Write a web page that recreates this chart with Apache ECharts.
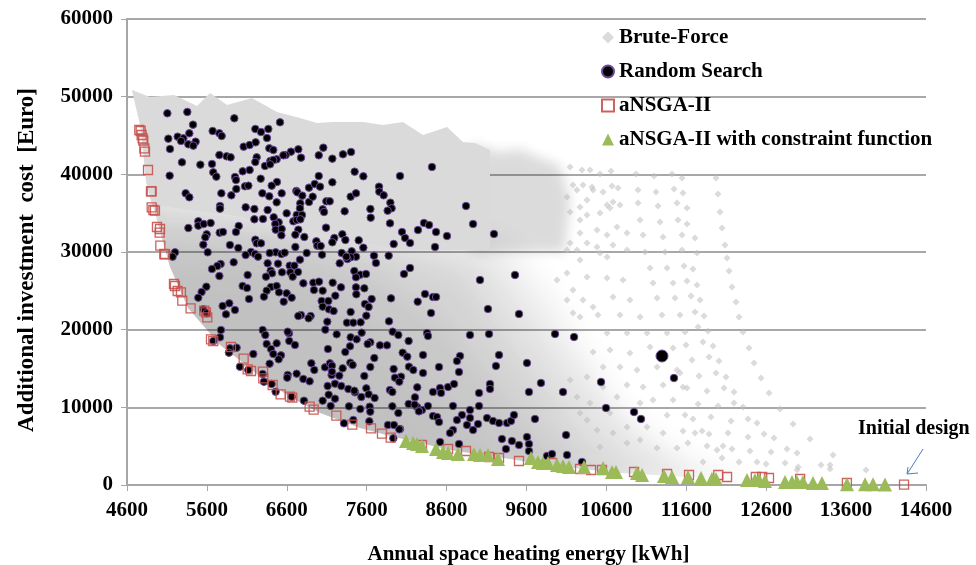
<!DOCTYPE html>
<html><head><meta charset="utf-8">
<style>html,body{margin:0;padding:0;background:#fff}#c{width:976px;height:565px}</style>
<script src="https://cdn.jsdelivr.net/npm/echarts@6/dist/echarts.min.js"></script>
</head><body><div id="c"></div>
<script>
const xTicks=[4600,14600,1000], yTicks=[0,60000,10000];
const legendNames=['Brute-Force','Random Search','aNSGA-II','aNSGA-II with constraint function'];

const randomSearchLarge=[[11296,16610]];
const randomSearch=[
[5105,47856],[5355,48028],[5943,47212],[6515,46697],[5426,46397],[5672,45581],[5756,45281],[5785,44938],[5380,45281],[6206,45839],[6277,45452],[6369,45839],[6352,44680],[5117,44594],[5234,44852],[5305,44637],[5276,44294],[5459,44208],[5368,43865],[5430,43693],[5138,43264],[6060,43564],[6135,43779],[6210,44122],[6381,43350],[6431,43135],[6744,43221],[6652,42920],[6586,42491],[6557,42448],[5756,42491],[5847,42319],[5897,42191],[6223,42191],[6206,41590],[6473,41933],[6394,41719],[6431,41847],[6778,42148],[7000,42448],[7057,43435],[7170,42019],[7303,42577],[7404,42877],[5288,41547],[5518,41246],[5664,41332],[6327,41075],[6390,41289],[6048,40388],[6135,40560],[5680,40259],[5718,39701],[5134,39830],[5952,39658],[5964,39272],[6273,39444],[6477,39015],[6411,38543],[6077,38456],[6119,38543],[5968,38113],[5781,37555],[5906,37298],[5334,37555],[5380,37040],[6294,37555],[6381,37169],[6536,37555],[6719,37856],[6732,37684],[6794,37255],[6769,36268],[6878,38285],[6949,38757],[7016,38414],[7000,39787],[7170,38972],[7449,40345],[7558,39744],[6473,36397],[5764,35924],[5764,35581],[6085,35752],[6194,35538],[6360,35409],[6598,34980],[6765,35624],[6724,34765],[6790,34765],[6878,36439],[6924,37126],[7095,36525],[7137,36525],[7049,35495],[7066,35152],[7324,35238],[7399,37126],[7466,37555],[7754,38414],[7758,37770],[7812,37298],[7896,36354],[7912,35624],[7862,35323],[7646,35538],[7650,34422],[7892,33692],[6194,34208],[6302,34251],[6436,34466],[6498,33821],[6456,33606],[6682,33950],[6724,34122],[6769,34208],[7091,33135],[7295,32276],[5493,33950],[5493,33392],[5560,33606],[5647,33735],[5368,33091],[5998,33349],[5964,32576],[5760,32491],[5801,32576],[5597,32276],[5580,31890],[5555,30946],[6461,32877],[6536,32963],[6532,32148],[6744,32877],[6707,32234],[6819,31933],[6970,31375],[6982,30817],[7024,30774],[7195,31804],[7170,31246],[7333,31546],[7500,31503],[7558,30559],[7938,31031],[6206,31589],[6223,31117],[6277,31117],[5889,30902],[5993,30516],[5610,29959],[6707,30645],[6461,29959],[6386,29873],[6532,29744],[6573,29916],[6849,29873],[6152,30001],[6202,29744],[6240,29400],[6085,29615],[7287,29873],[7412,30087],[7466,29400],[7399,29315],[7358,29100],[7345,29400],[7041,29658],[7691,29529],[7875,29529],[7716,28585],[7262,28542],[6765,29015],[6490,28500],[6360,28542],[5935,28671],[5772,28457],[5731,28199],[5664,27813],[5756,26911],[6636,28242],[6694,28242],[6398,27598],[6415,27254],[6540,27383],[6740,27426],[6644,27383],[6673,26825],[6110,27040],[6340,26825],[7445,27555],[7520,27083],[7591,27169],[7466,26739],[5201,29959],[5171,29400],
[8017,39787],[8417,40946],[8843,35924],
[8317,33735],[8380,33478],[8931,33606],[8042,32576],[8080,31804],[8242,32834],[8468,32576],[8605,32061],[9193,32319],[8142,31160],[8455,30645],[8142,27941],[8067,27168],[9018,26396],[9456,27040],[8330,24595],[8430,24207],[8468,24207],[8405,22147],[9118,22662],[9506,22018],[8355,19572],[8367,19185],[8893,19314],[9131,19443],[9957,19443],[10195,19056],[8305,16739],[8768,16610],[8730,15966],[9256,16739],[9218,15322],[9606,15709],[8305,14421],[8505,15194],[8755,14550],[9143,13005],[9781,13134],[8518,12490],[8618,12618],[8693,13005],[10533,13262],[11446,13777],[8430,11975],[8530,11846],[9006,11846],[9143,12361],[9631,11975],[10057,11975],[8230,10043],[8292,9657],[8255,9528],[8367,10172],[8680,10172],[9006,10172],[8893,9657],[8793,9013],[10595,9915],[10946,9400],[11033,8498],[8017,7211],[8430,8884],[8480,8756],[8505,8112],[8730,8369],[8893,8627],[8855,7726],[8993,7854],[8931,7082],[9106,8627],[9181,8241],[9256,7983],[9356,7983],[9406,8241],[9443,9013],[9706,8498],[8680,7082],[8643,6696],[10095,6438],[8518,5537],[8755,5279],[9293,5923],[9418,5665],[9506,5150],[9343,4635],[9606,6180],[9631,5279],[9631,4378],[9856,3734],[9919,3992],[10107,3863],[10295,2961],
[6047,25623],[6102,25366],[6402,25495],[6473,25623],[6348,25023],[6314,24250],[6127,23950],[6502,24808],[6598,24679],[6661,24121],[6561,23606],[6807,25967],[6932,26053],[7003,26181],[6940,25108],[7049,25023],[7174,26053],[7278,25452],[7207,24379],[7466,25452],[7470,24550],[7570,25323],[7662,23950],[7904,24035],[8238,23606],[7036,23692],[7120,23692],[7049,22962],[7128,22619],[7186,22404],[7578,23306],[7624,22920],[7399,22276],[7595,21804],[6777,21889],[6744,21761],[6898,21761],[6873,21460],[7107,21031],[7353,20902],[7432,20902],[7524,20945],[7879,21074],[7082,20001],[7224,19400],[6298,19958],[6331,19314],[6627,19529],[6611,19743],[6631,18542],[7537,19615],[7399,19014],[7474,18756],[7925,19743],[7996,19314],[8125,18542],[6348,18155],[6473,18241],[6702,18027],[7645,18370],[7612,18155],[7766,17984],[7854,17984],[7391,17855],[7115,17511],[6402,17511],[6431,16868],[6527,16696],[6498,16181],[7332,17125],[8050,17039],[8108,16524],[7695,16353],[6385,15623],[6181,16868],[7395,15752],[7424,15451],[6907,15666],[6944,14808],[7078,15151],[7140,15666],[7165,15365],[7299,15022],[7645,15194],[8129,15237],[8183,14808],[7937,14936],[7161,14164],[7257,14078],[7165,14593],[7570,14035],[6611,14164],[6606,13820],[6723,14336],[6807,13649],[6886,13349],[8029,13949],[7954,13820],[8008,13305],[7111,12747],[7203,13048],[7282,12747],[7370,12361],[7453,11932],[7445,12146],[7595,12447],[7891,12232],[7921,11975],[8233,12576],[7124,11632],[7203,11116],[7049,10859],[7149,10172],[7533,11331],[7624,11675],[7699,11202],[8204,11288],[8125,10430],[8200,10344],[8254,9485],[7921,10130],[7996,9271],[7378,10130],[7520,9786],[7637,10086],[7645,9443],[7432,8369],[7316,7941],[7633,8198],[7866,7726],[7941,7726],[8008,7168],[7933,6009],[6815,10859],[6661,11374],[6460,12018],[6410,13005],[6314,13305],[6118,14808],[6298,14293],
[5593,25537],[5534,24851],[5492,24121],[5797,23048],[5880,23391],[5951,22533],[5839,21975],[5555,22619],[5597,22104],[5776,19958],[5764,19014],[5680,18542],[5889,17597],[5972,17683],[5876,17039],[6014,15237]
];

const ansga=[
[4754,45710],[4771,45581],[4783,45066],[4796,44637],[4804,44337],[4817,43350],[4825,42920],[4863,40560],[4900,37813],[4909,37813],[4909,35752],[4930,35409],[4950,35324],[4975,33221],[5013,32963],[5009,32491],[5017,30817],[5067,29744],[5076,29701],
[5188,25881],[5200,25623],[5234,24980],[5275,24808],[5292,23735],[5396,22748],[5567,22447],[5588,22233],[5605,21589],[5651,18756],[5680,18542],[5901,17769],[6060,16267],[6110,14893],[6152,14679],[6302,14593],[6306,13735],[6423,12876],[6523,11675],[6640,11374],[6669,11245],[6886,10086],[6936,9700],[7220,8927],[7420,7768],[7654,7297],[7791,6610],[7900,6095],
[8292,5150],[8618,4635],[8843,4378],[9131,3605],[9256,3477],[9506,3090],[9919,2833],[10270,2060],[10408,1931],[10545,1931],[10946,1674],[11359,1416],[11634,1288],[12000,1288],[12110,1030],[12470,1030],[12550,1030],[12635,901],[13025,773],[13610,258],[14325,50]
];

const ansgaConstraint=[
[8092,5665],[8180,5408],[8230,5279],[8292,5022],[8467,4635],[8555,4249],[8618,4120],[8743,3992],[8943,3992],[9018,3863],[9118,3863],[9243,3348],[9656,3477],[9744,2961],[9806,2833],[9869,2833],[9982,2575],[10057,2446],[10132,2318],[10320,2318],[10558,2189],[10670,1674],[10720,1674],[10983,1545],[11046,1288],[11321,1159],[11421,1030],[11621,1030],[11784,901],[11921,773],[11972,773],[12360,644],[12460,644],[12510,644],[12585,515],[12835,386],[12923,386],[12985,386],[13060,386],[13186,258],[13298,258],[13611,100],[13837,100],[13937,100],[14087,50]
];

const bruteForce=[
[11972,39529],[11997,37469],[12022,35151],[12047,33090],[12084,30901],[12110,29228],[12135,27554],[12172,25494],[12222,23563],[12260,21631],[12310,19700],[12385,17640],[12447,15708],[12535,13777],[12635,11845],[12773,9785],[12936,7855],[13148,5923],[13436,3862],
[11684,27811],[11734,25752],[11772,23820],[11822,21760],[11872,19828],[11934,17897],[12009,15966],[12097,13905],[12197,11973],[12310,10042],[12485,7982],[12698,6051],[12986,4119],[13286,2574],
[11571,28198],[11609,26266],[11659,24335],[11709,22274],[11747,20343],[11809,18411],[11885,16480],[11972,14419],[12072,12489],[12197,10557],[12372,8497],[12573,6566],[12860,4633],
[11596,18026],[11671,16094],[11759,14034],[11859,12102],[11997,10171],[12160,8240],[12372,6180],[12660,4249],[12986,1930],
[11521,14420],[11609,12489],[11747,10429],[11909,8755],[11684,8497],[11584,9012],[11797,6951],[11885,6567],[12122,6695],[11559,6951],[11709,6695],[12059,5021],[11859,5021],[11620,5408],[12172,4633],[11985,4506],[12397,4376],[12485,2961],[12598,2704],[12836,2832],[13000,2316],[13399,2574],[13399,2059],[13849,1931],[12260,2961],[12047,3474],[11809,2961],
[10971,40044],[10996,37984],[10996,36309],[11196,39786],[11221,37726],[11246,35923],[11421,40044],[11446,38112],[11484,36309],[11546,39529],[11559,37597],[11609,35666],
[11021,34121],[11271,33863],[11496,34121],[11609,33608],[11059,32190],[11309,31932],[11546,32190],[11709,31802],[11083,30000],[11333,30000],[11546,30258],[11734,29872],[11146,27940],[11359,27940],[11184,26008],[11434,26008],[11234,24077],[11459,24077],[10683,24206],[10895,23820],[10608,26654],[10808,26395],[11296,21889],[11521,21889],[11021,21631],[10770,21889],[10495,21889],[11359,19570],[11584,19700],[11108,19570],[10858,19570],[10608,19570],[11434,17640],[11146,17768],[10895,16995],[10645,17382],[10433,17124],[11234,15192],[11484,14807],[10983,14807],[10770,15192],[10558,15192],[11058,12618],[11309,12875],[11559,12618],[10858,12875],[10733,11330],[11184,10944],[11434,10944],[11021,10557],[11359,8993],[11108,7467],[10858,7467],[11309,6693],[10683,6693],[11021,5794],[11484,4764],[11234,4764],[10858,5408],[10483,7081],[10520,4893],[10357,8368],[10270,9270],[10645,9270],[10395,10557],[10232,11330],[10145,13519],[10357,13905],[10558,12618],
[10270,28970],[10608,29356],[10858,30258],[10520,29872],[10357,26781],[10182,25108],[10307,23820],[10433,22919],[10182,22146],[10270,21631],[10107,27297],[9982,26395],[10107,23820],
[10145,35151],[10270,34121],[10357,34764],[10520,35022],[10645,35666],[10770,36052],[10483,32833],[10270,32447],[10608,32190],[10733,33218],[10858,32447],[10357,31159],[10483,30644],[10683,30902],[10145,31159],[10232,30258],[10107,30258],[10145,40945],[10295,40559],[10395,40559],[10658,40430],[10520,40044],[10182,38628],[10307,38628],[10420,38370],[10558,37726],[10670,38499],[10745,38241],[10232,37984],[10433,37984],[10608,36052],[10683,36438],[10357,36696],[10107,37082],[10270,35795]
];

// outline of the solid part of the brute-force cloud
const cloudUpper=[[4662,50864],[4888,49958],[5188,50216],[5476,48799],[5639,50474],[5852,48928],[6164,49829],[6477,48027],[6765,47254],[6978,46610],[7178,46739],[7554,46739],[7804,46353],[8054,46739],[8305,45065],[8605,46095],[8805,44164],[8955,44035],[9143,43134],[9143,30258],[8017,30258],[6765,33090],[5889,34765],[5013,35924],[4913,36052],[4838,39013],[4800,43134],[4763,46353],[4713,48542]];
const cloudFringe=[[8900,44000],[9268,42877],[9518,43263],[9769,42104],[10019,41203],[10145,36696],[10082,30000],[8900,30000]];
const cloudFront=[[12022,772],[11396,1158],[10770,1545],[10520,1802],[9769,2703],[9394,3348],[8643,4506],[8267,5407],[7892,6309],[7516,7338],[7016,9270],[6640,11330],[6289,13777],[6039,15838],[5764,18026],[5363,22790],[5138,28069],[4975,34121],[4840,39000]];
const cloudClipCorners=[[4600,60000],[14600,60000],[14600,0],[12022,0]];
const cloudLevel1=[[4700,38000],[6765,36000],[8017,33500],[9368,31500],[9969,23820],[10345,17382],[10845,9657],[11471,4506],[12097,1674],[12500,0]];
const cloudLevel2=[[4700,37500],[6765,35500],[8017,33000],[8993,31000],[9594,22533],[10069,16094],[10570,9657],[11070,4506],[11596,1158],[11900,0]];
const cloudLevel3=[[4700,35765],[6765,33447],[7929,30000],[8818,26751],[9318,18670],[9919,10944],[10257,5794],[10820,1802],[11100,0]];
const cloudLevel4=[[4700,32500],[6515,31200],[7716,26800],[8567,20300],[9293,11200],[9794,5400],[10169,2703],[10400,0]];
const cloudLevel5=[[4700,28500],[6264,28600],[7341,22800],[8066,15000],[8667,8600],[9043,4506],[9300,0]];
const cloudBase=[[4700,0]];

const arrowShaft=[[14563,4635],[14363,1416]];
const arrowHead=[[14375,2318],[14363,1416],[14500,1545]];

function polygonSeries(points,fill,z){
  return {type:'custom',silent:true,z:z,clip:true,data:[0],coordinateSystem:'cartesian2d',
    renderItem:(p,api)=>({type:'polygon',shape:{points:points.map(q=>api.coord(q))},style:{fill:fill}})};
}
// soft-edged layer: only the blurred shadow of the (off-canvas) polygon is painted
function softSeries(points,alpha,blur,z,clipPts){
  const OFF=3000;
  return {type:'custom',silent:true,z:z,clip:true,data:[0],coordinateSystem:'cartesian2d',
    renderItem:(p,api)=>{
      const shape={type:'polygon',shape:{points:points.map(q=>{const c=api.coord(q);return [c[0]-OFF,c[1]];})},
        style:{fill:'#000',shadowColor:'rgba(0,0,0,'+alpha+')',shadowBlur:blur,shadowOffsetX:OFF,shadowOffsetY:0}};
      if(!clipPts) return shape;
      return {type:'group',clipPath:{type:'polygon',shape:{points:clipPts.map(q=>api.coord(q))}},children:[shape]};
    }};
}
function polylineSeries(points){
  return {type:'custom',silent:true,z:8,clip:false,data:[0],coordinateSystem:'cartesian2d',
    renderItem:(p,api)=>({type:'polyline',shape:{points:points.map(q=>api.coord(q))},style:{fill:null,stroke:'#4a7ebb',lineWidth:1}})};
}
const font='"Liberation Serif","Times New Roman",serif';
const axisColor='#a6a6a6';
const plainNumber=v=>String(v);
const cloudClip=cloudClipCorners.concat(cloudFront);
const chart=echarts.init(document.getElementById('c'),null,{renderer:'canvas'});
chart.setOption({
  animation:false,
  backgroundColor:'#fff',
  grid:{left:127,right:50,top:19,bottom:80,outerBoundsMode:'none'},
  xAxis:{type:'value',min:xTicks[0],max:xTicks[1],interval:xTicks[2],
    name:'Annual space heating energy [kWh]',nameLocation:'middle',nameGap:59,
    nameTextStyle:{fontFamily:font,fontWeight:'bold',fontSize:21,color:'#000',padding:[0,0,0,4]},
    axisLine:{onZero:false,lineStyle:{color:axisColor,width:2}},
    axisTick:{show:true,length:6,lineStyle:{color:axisColor,width:1}},
    axisLabel:{fontFamily:font,fontWeight:'bold',fontSize:21,color:'#000',margin:15,formatter:plainNumber,showMinLabel:true,showMaxLabel:true},
    splitLine:{show:false}},
  yAxis:{type:'value',min:yTicks[0],max:yTicks[1],interval:yTicks[2],
    name:'Additional investment  cost  [Euro]',nameLocation:'middle',nameGap:88,
    nameTextStyle:{fontFamily:font,fontWeight:'bold',fontSize:23,color:'#000',padding:[0,16,0,0]},
    axisLine:{show:true,lineStyle:{color:axisColor,width:2}},
    axisTick:{show:true,length:6,lineStyle:{color:axisColor,width:1}},
    axisLabel:{fontFamily:font,fontWeight:'bold',fontSize:21,color:'#000',margin:14,formatter:plainNumber,showMinLabel:true,showMaxLabel:true},
    splitLine:{show:true,lineStyle:{color:'#a8a8a8',width:2}}},
  legend:{orient:'vertical',left:601,top:27,padding:0,itemWidth:12,itemHeight:12,itemGap:13,selectedMode:false,
    textStyle:{fontFamily:font,fontWeight:'bold',fontSize:21,color:'#000'},
    data:[{name:legendNames[0],icon:'diamond'},{name:legendNames[1],icon:'circle'},{name:legendNames[2],icon:'rect'},{name:legendNames[3],icon:'triangle'}]},
  graphic:[{type:'text',left:858,top:419,z:20,style:{text:'Initial design',font:'bold 20px '+font,fill:'#000'}}],
  series:[
    softSeries(cloudLevel1.concat(cloudBase),0.06,26,1,cloudClip),
    softSeries(cloudLevel2.concat(cloudBase),0.06,26,1,cloudClip),
    softSeries(cloudLevel3.concat(cloudBase),0.06,26,1,cloudClip),
    softSeries(cloudLevel4.concat(cloudBase),0.05,26,1,cloudClip),
    softSeries(cloudLevel5.concat(cloudBase),0.03,26,1,cloudClip),
    softSeries(cloudFringe,0.14,12,2,null),
    polygonSeries(cloudUpper,'#dadada',2),
    {name:legendNames[0],type:'scatter',z:3,data:bruteForce,symbol:'diamond',symbolSize:7,
      itemStyle:{color:'rgba(190,190,190,0.55)',opacity:1}},
    {name:legendNames[1],type:'scatter',z:4,data:randomSearch,symbol:'circle',symbolSize:7.5,
      itemStyle:{color:'#000',borderColor:'#6a4a96',borderWidth:1,opacity:1}},
    {name:legendNames[1],type:'scatter',z:4,data:randomSearchLarge,symbol:'circle',symbolSize:12,
      itemStyle:{color:'#000',borderColor:'#6a4a96',borderWidth:1,opacity:1}},
    {name:legendNames[2],type:'scatter',z:5,data:ansga,symbol:'rect',symbolSize:9,
      itemStyle:{color:'rgba(255,255,255,0)',borderColor:'#c8514e',borderWidth:1.3,opacity:0.9}},
    {name:legendNames[3],type:'scatter',z:6,data:ansgaConstraint,symbol:'triangle',symbolSize:[14,14],
      clip:false,itemStyle:{color:'#9bbb59',opacity:1}},
    polylineSeries(arrowShaft),
    polylineSeries(arrowHead)
  ]
});
</script></body></html>
